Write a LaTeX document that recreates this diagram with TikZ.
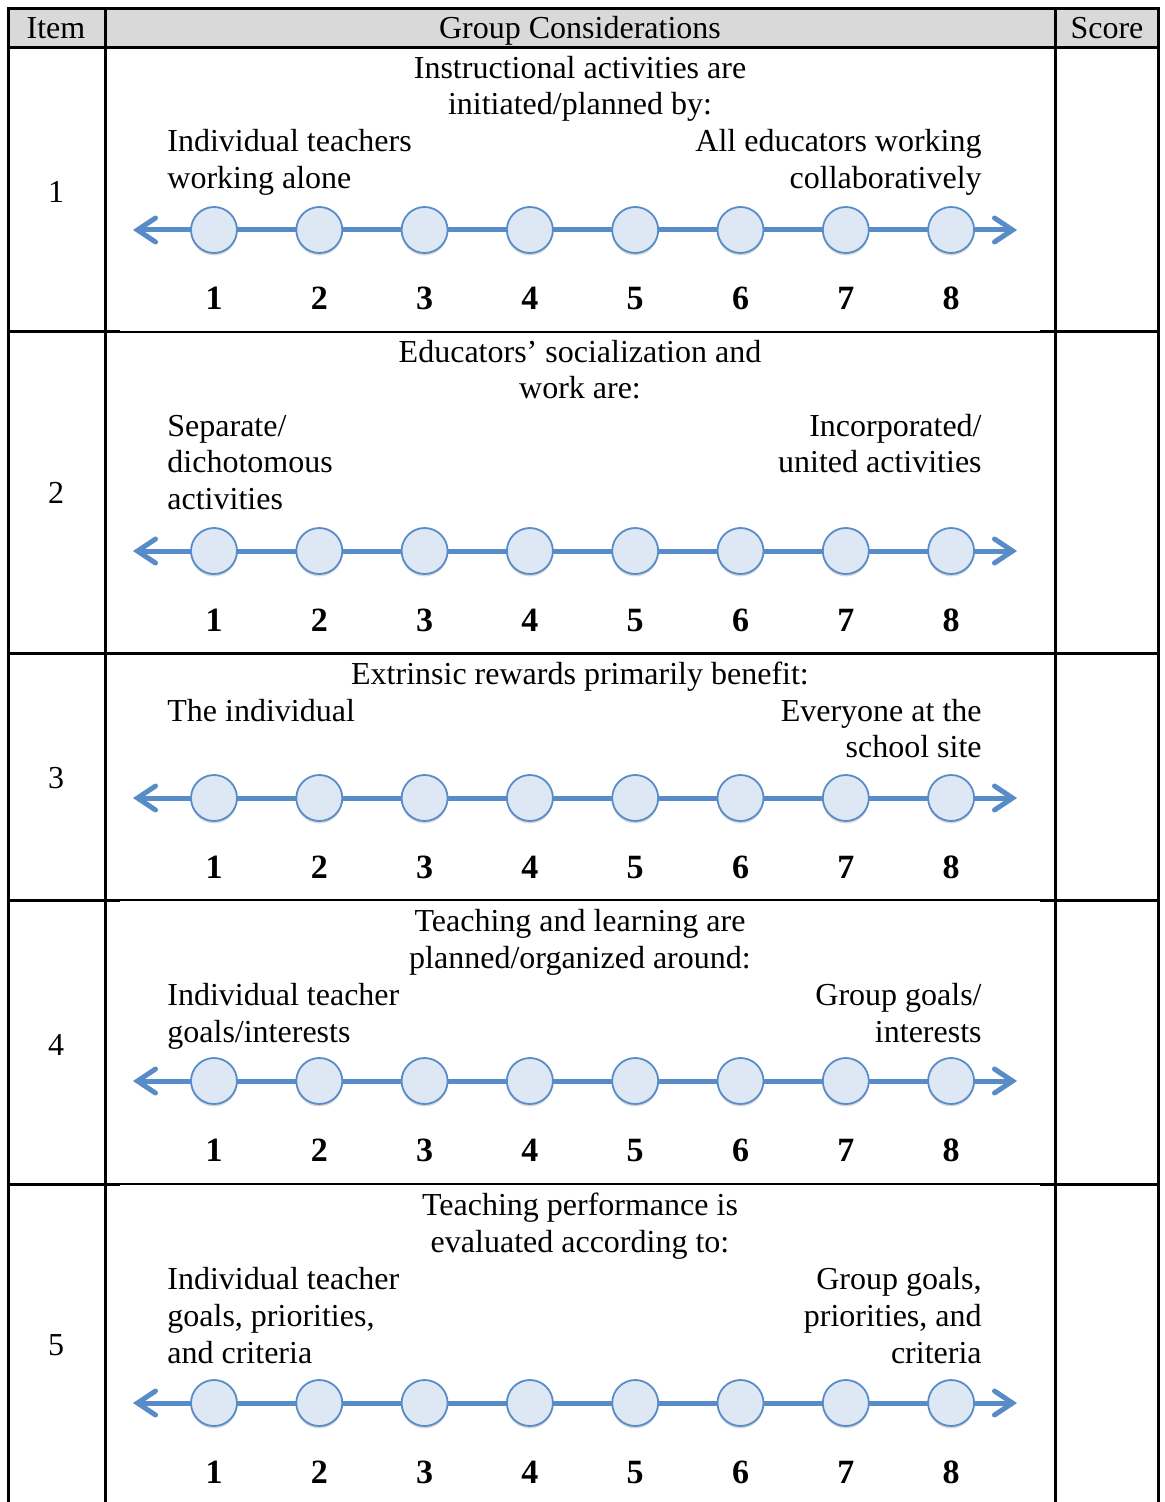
\documentclass[tikz,border=0pt]{standalone}
\usepackage{fontspec}
\setmainfont{Liberation Serif}
\usetikzlibrary{arrows.meta,shadows}
\definecolor{nlblue}{RGB}{88,140,200}
\definecolor{nlfill}{RGB}{222,232,244}
\definecolor{hdrgray}{RGB}{217,217,217}
\begin{document}
\begin{tikzpicture}[x=0.5pt,y=-0.5pt,
  txt/.style={inner sep=0pt, font=\fontsize{16}{18}\selectfont},
  lt/.style={txt, anchor=base west},
  rt/.style={txt, anchor=base east},
  ct/.style={txt, anchor=base},
  numlbl/.style={inner sep=0pt, anchor=base, font=\bfseries\fontsize{17}{18}\selectfont},
  dot/.style={circle, minimum size=23pt, inner sep=0pt, draw=nlblue, line width=0.9pt, fill=nlfill,
    drop shadow={opacity=0.25, shadow xshift=0pt, shadow yshift=-1.2pt, fill=black!60}},
  axis/.style={draw=nlblue, line width=2.5pt,
    {Straight Barb[length=9pt,width=12pt,line cap=round]}-{Straight Barb[length=9pt,width=12pt,line cap=round]}},
  rulethick/.style={line width=1.5pt, line cap=rect},
  rulethin/.style={line width=1pt}]
\useasboundingbox (0,0) rectangle (1164,1502);
\fill[white] (0,0) rectangle (1164,1502);
% header background
\fill[hdrgray] (8,9) rectangle (1158,48);
% table rules
\draw[rulethick] (8,9) -- (1158,9);
\draw[rulethick] (8,48) -- (1158,48);
\draw[rulethick] (8,653) -- (1158,653);
\foreach \yy in {332,900,1184} {
  \draw[rulethick] (8,\yy) -- (118,\yy);
  \draw[rulethin] (118,\yy) -- (1041,\yy);
  \draw[rulethick] (1041,\yy) -- (1158,\yy);
}
\foreach \xx in {8,105,1055,1158} {
  \draw[rulethick] (\xx,9) -- (\xx,1502);
}
% header
\node[ct] (hItem) at (56,39) {Item};
\node[ct] (hGroup) at (580,39) {Group Considerations};
\node[ct] (hScore) at (1107,39) {Score};
% item numbers
\node[ct] (i1) at (56,203) {1};
\node[ct] (i2) at (56,503) {2};
\node[ct] (i3) at (56,788) {3};
\node[ct] (i4) at (56,1055) {4};
\node[ct] (i5) at (56,1355) {5};
% row 1
\node[ct] (r1a) at (580,79) {Instructional activities are};
\node[ct] (r1b) at (580,115) {initiated/planned by:};
\node[lt] (r1l1) at (167,152) {Individual teachers};
\node[lt] (r1l2) at (167,189) {working alone};
\node[rt] (r1r1) at (982,152) {All educators working};
\node[rt] (r1r2) at (982,189) {collaboratively};
% row 2
\node[ct] (r2a) at (580,363) {Educators’ socialization and};
\node[ct] (r2b) at (580,399) {work are:};
\node[lt] (r2l1) at (167,437) {Separate/};
\node[lt] (r2l2) at (167,473) {dichotomous};
\node[lt] (r2l3) at (167,509) {activities};
\node[rt] (r2r1) at (982,437) {Incorporated/};
\node[rt] (r2r2) at (982,473) {united activities};
% row 3
\node[ct] (r3a) at (580,684) {Extrinsic rewards primarily benefit:};
\node[lt] (r3l1) at (167,721) {The individual};
\node[rt] (r3r1) at (982,721) {Everyone at the};
\node[rt] (r3r2) at (982,757) {school site};
% row 4
\node[ct] (r4a) at (580,931) {Teaching and learning are};
\node[ct] (r4b) at (580,968) {planned/organized around:};
\node[lt] (r4l1) at (167,1005) {Individual teacher};
\node[lt] (r4l2) at (167,1042) {goals/interests};
\node[rt] (r4r1) at (982,1005) {Group goals/};
\node[rt] (r4r2) at (982,1042) {interests};
% row 5
\node[ct] (r5a) at (580,1215) {Teaching performance is};
\node[ct] (r5b) at (580,1252) {evaluated according to:};
\node[lt] (r5l1) at (167,1289) {Individual teacher};
\node[lt] (r5l2) at (167,1326) {goals, priorities,};
\node[lt] (r5l3) at (167,1363) {and criteria};
\node[rt] (r5r1) at (982,1289) {Group goals,};
\node[rt] (r5r2) at (982,1326) {priorities, and};
\node[rt] (r5r3) at (982,1363) {criteria};
% number lines
\foreach \r/\cy in {1/230,2/551,3/798,4/1081,5/1403} {
  \coordinate (L\r) at (133,\cy);
  \coordinate (R\r) at (1017,\cy);
  \draw[axis] (L\r) -- (R\r);
  \foreach \i in {1,...,8} {
    \node[dot] (c\r-\i) at ({214+105.3*(\i-1)},\cy) {};
    \node[numlbl] (n\r-\i) at ({214+105.3*(\i-1)},\cy+80) {\i};
  }
}
\end{tikzpicture}
\end{document}
